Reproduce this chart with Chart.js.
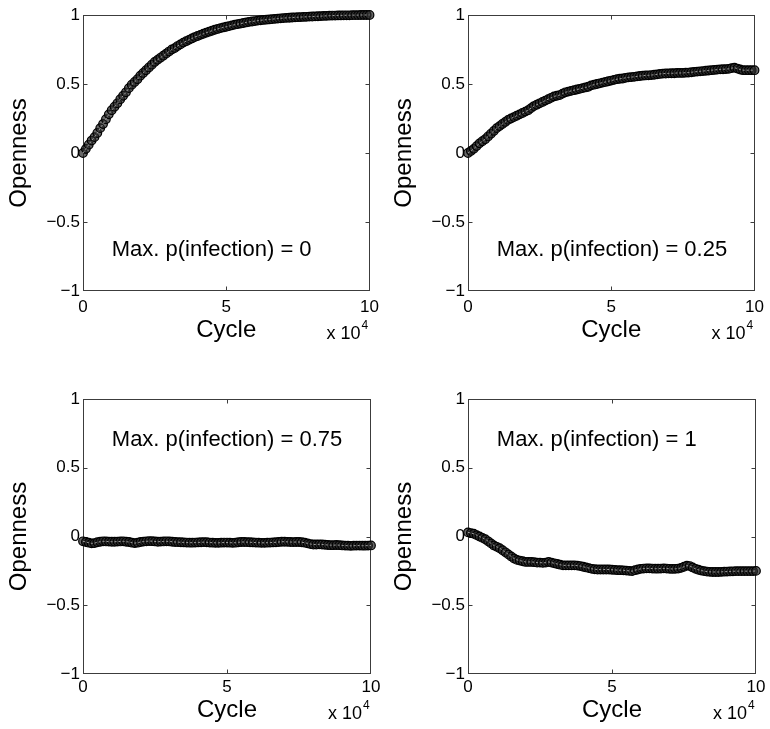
<!DOCTYPE html>
<html><head><meta charset="utf-8">
<script src="https://cdn.jsdelivr.net/npm/chart.js@4.4.1/dist/chart.umd.min.js"></script>
<style>
html,body{margin:0;padding:0;background:#fff;}
#wrap{position:relative;width:770px;height:729px;overflow:hidden;background:#fff;}
canvas{position:absolute;}
</style></head><body>
<div id="wrap">
<canvas id="c0" width="385" height="350" style="left:0;top:0"></canvas>
<canvas id="c1" width="385" height="350" style="left:385px;top:0"></canvas>
<canvas id="c2" width="385" height="359" style="left:0;top:370px"></canvas>
<canvas id="c3" width="385" height="359" style="left:385px;top:370px"></canvas>
</div>
<script>
// ---------------- DATA ----------------
const cycles = [0,1000,2000,3000,4000,5000,6000,7000,8000,9000,
10000,11000,12000,13000,14000,15000,16000,17000,18000,19000,
20000,21000,22000,23000,24000,25000,26000,27000,28000,29000,
30000,31000,32000,33000,34000,35000,36000,37000,38000,39000,
40000,41000,42000,43000,44000,45000,46000,47000,48000,49000,
50000,51000,52000,53000,54000,55000,56000,57000,58000,59000,
60000,61000,62000,63000,64000,65000,66000,67000,68000,69000,
70000,71000,72000,73000,74000,75000,76000,77000,78000,79000,
80000,81000,82000,83000,84000,85000,86000,87000,88000,89000,
90000,91000,92000,93000,94000,95000,96000,97000,98000,99000,100000];

const opennessP0 = [0.00,0.03,0.06,0.09,0.115,0.145,0.18,0.21,0.245,0.28,
0.31,0.335,0.36,0.39,0.415,0.44,0.47,0.495,0.515,0.535,
0.56,0.58,0.60,0.62,0.64,0.66,0.675,0.69,0.705,0.72,
0.735,0.75,0.76,0.775,0.787,0.80,0.81,0.82,0.83,0.84,
0.848,0.856,0.864,0.872,0.879,0.886,0.893,0.899,0.905,0.91,
0.915,0.92,0.925,0.93,0.934,0.938,0.942,0.946,0.95,0.953,
0.956,0.959,0.962,0.964,0.966,0.968,0.97,0.972,0.974,0.976,
0.978,0.979,0.98,0.982,0.983,0.984,0.985,0.986,0.987,0.988,
0.989,0.99,0.991,0.992,0.993,0.994,0.995,0.996,0.996,0.997,
0.997,0.998,0.998,0.998,0.999,0.999,0.999,1.0,1.0,1.0,1.0];

const opennessP025 = [0.00,0.015,0.03,0.05,0.07,0.085,0.10,0.12,0.14,0.16,
0.18,0.195,0.21,0.225,0.24,0.25,0.26,0.27,0.28,0.29,
0.30,0.31,0.325,0.34,0.35,0.36,0.37,0.38,0.39,0.40,
0.41,0.415,0.42,0.43,0.44,0.445,0.45,0.455,0.46,0.465,
0.47,0.475,0.48,0.49,0.495,0.50,0.505,0.51,0.515,0.52,
0.525,0.53,0.535,0.538,0.54,0.545,0.548,0.55,0.552,0.555,
0.558,0.56,0.562,0.563,0.565,0.567,0.57,0.573,0.575,0.576,
0.577,0.578,0.578,0.58,0.58,0.58,0.582,0.583,0.585,0.588,
0.59,0.592,0.594,0.596,0.598,0.60,0.602,0.604,0.606,0.607,
0.608,0.61,0.615,0.618,0.612,0.605,0.60,0.60,0.60,0.60,0.60];

const opennessP075 = [-0.035,-0.04,-0.045,-0.05,-0.048,-0.042,-0.038,-0.035,-0.036,-0.037,
-0.038,-0.038,-0.037,-0.036,-0.035,-0.038,-0.04,-0.045,-0.048,-0.045,
-0.04,-0.037,-0.035,-0.033,-0.034,-0.036,-0.038,-0.037,-0.036,-0.035,
-0.036,-0.038,-0.04,-0.041,-0.042,-0.043,-0.044,-0.045,-0.045,-0.044,
-0.043,-0.042,-0.041,-0.042,-0.044,-0.045,-0.046,-0.046,-0.045,-0.044,
-0.044,-0.045,-0.046,-0.045,-0.042,-0.04,-0.04,-0.041,-0.042,-0.043,
-0.044,-0.045,-0.046,-0.046,-0.045,-0.044,-0.043,-0.042,-0.04,-0.038,
-0.038,-0.039,-0.04,-0.041,-0.04,-0.04,-0.042,-0.045,-0.05,-0.055,
-0.058,-0.058,-0.057,-0.058,-0.06,-0.062,-0.063,-0.063,-0.062,-0.063,
-0.065,-0.066,-0.067,-0.068,-0.067,-0.066,-0.066,-0.067,-0.067,-0.066,-0.065];

const opennessP1 = [0.03,0.025,0.02,0.01,0.0,-0.01,-0.02,-0.035,-0.05,-0.065,
-0.075,-0.085,-0.10,-0.115,-0.13,-0.145,-0.16,-0.17,-0.175,-0.18,
-0.185,-0.185,-0.185,-0.187,-0.19,-0.19,-0.192,-0.19,-0.185,-0.19,
-0.195,-0.20,-0.205,-0.21,-0.21,-0.21,-0.21,-0.21,-0.212,-0.215,
-0.22,-0.225,-0.23,-0.235,-0.238,-0.24,-0.24,-0.24,-0.24,-0.24,
-0.242,-0.243,-0.245,-0.245,-0.246,-0.248,-0.25,-0.252,-0.245,-0.24,
-0.235,-0.233,-0.232,-0.232,-0.233,-0.234,-0.234,-0.233,-0.232,-0.233,
-0.235,-0.236,-0.235,-0.233,-0.228,-0.22,-0.212,-0.215,-0.225,-0.235,
-0.242,-0.248,-0.252,-0.255,-0.257,-0.258,-0.258,-0.258,-0.257,-0.256,
-0.255,-0.254,-0.253,-0.252,-0.252,-0.252,-0.252,-0.252,-0.252,-0.252,-0.25];

const panelTitles = ['Max. p(infection) = 0','Max. p(infection) = 0.25','Max. p(infection) = 0.75','Max. p(infection) = 1'];
const xTickValues = [0, 50000, 100000];
const xTickLabels = ['0', '5', '10'];
const yTickValues = [-1, -0.5, 0, 0.5, 1];
const yTickLabels = ['\u22121', '\u22120.5', '0', '0.5', '1'];
const xAxisTitle = 'Cycle';
const yAxisTitle = 'Openness';
const xExponent = '4';

// ---------------- DRAWING ----------------
const FONT = '"Liberation Sans", Arial, Helvetica, sans-serif';

const matlabAxes = {
  id: 'matlabAxes',
  beforeDatasetsDraw(chart) {
    const {ctx, chartArea: a, scales: {x, y}} = chart;
    ctx.save();
    ctx.strokeStyle = '#3c3c3c';
    ctx.lineWidth = 1;
    const L = Math.round(a.left) + 0.5, R = Math.round(a.right) - 0.5;
    const T = Math.round(a.top) + 0.5, B = Math.round(a.bottom) - 0.5;
    ctx.strokeRect(L, T, R - L, B - T);
    const tl = 4;
    ctx.beginPath();
    x.ticks.forEach(t => {
      const px = Math.round(x.getPixelForValue(t.value)) + 0.5;
      if (px <= L + 1 || px >= R - 1) return;
      ctx.moveTo(px, B); ctx.lineTo(px, B - tl);
      ctx.moveTo(px, T); ctx.lineTo(px, T + tl);
    });
    y.ticks.forEach(t => {
      const py = Math.round(y.getPixelForValue(t.value)) + 0.5;
      if (py <= T + 1 || py >= B - 1) return;
      ctx.moveTo(L, py); ctx.lineTo(L + tl, py);
      ctx.moveTo(R, py); ctx.lineTo(R - tl, py);
    });
    ctx.stroke();
    ctx.restore();
  },
  afterDraw(chart, args, opts) {
    const {ctx, chartArea: a, scales: {x, y}} = chart;
    ctx.save();
    ctx.fillStyle = '#000';
    ctx.font = `22px ${FONT}`;
    ctx.textAlign = 'left';
    ctx.textBaseline = 'middle';
    ctx.fillText(opts.label, x.getPixelForValue(opts.labelAt[0]), y.getPixelForValue(opts.labelAt[1]));
    ctx.textBaseline = 'alphabetic';
    ctx.font = `18px ${FONT}`;
    const x0 = a.right - 43;
    ctx.fillText('x 10', x0, opts.expBaseline);
    const w = ctx.measureText('x 10').width;
    ctx.font = `12px ${FONT}`;
    ctx.fillText(xExponent, x0 + w + 1, opts.expBaseline - 10);
    ctx.restore();
  }
};

function makePanel(id, values, title, labelY, row) {
  const top = row === 0 ? 15 : 29;
  const xAxisH = row === 0 ? 59 : 55;
  const tickPad = row === 0 ? 6 : 3;
  const titlePad = row === 0 ? 5 : 4;
  const expBaseline = row === 0 ? 339 : 349;
  const pts = cycles.map((c, i) => ({x: c, y: values[i]}));
  return new Chart(document.getElementById(id), {
    type: 'line',
    data: {
      datasets: [
        {
          data: pts,
          order: 0,
          showLine: true,
          borderColor: '#a0a0a0',
          borderWidth: 1,
          borderDash: [2, 2],
          pointRadius: 0,
          tension: 0,
          clip: false
        },
        {
          data: pts,
          order: 1,
          showLine: false,
          pointRadius: 4.3,
          pointStyle: 'circle',
          pointBorderColor: '#000',
          pointBackgroundColor: 'rgba(40,40,40,0.7)',
          pointBorderWidth: 1.2,
          clip: false
        }
      ]
    },
    options: {
      responsive: false,
      animation: false,
      events: [],
      layout: {padding: {left: 0, right: 14, top: top, bottom: 0}},
      plugins: {
        legend: {display: false},
        tooltip: {enabled: false},
        matlabAxes: {label: title, labelAt: [10000, labelY], expBaseline: expBaseline}
      },
      scales: {
        x: {
          type: 'linear', min: 0, max: 100000,
          grid: {display: false, drawTicks: false},
          border: {display: false},
          afterBuildTicks: s => { s.ticks = xTickValues.map(v => ({value: v})); },
          afterFit: s => { s.height = xAxisH; },
          ticks: {
            color: '#000', padding: tickPad, maxRotation: 0, autoSkip: false,
            font: {family: FONT, size: 17},
            callback: (v) => xTickLabels[xTickValues.indexOf(v)]
          },
          title: {display: true, text: xAxisTitle, color: '#000', font: {family: FONT, size: 24}, padding: {top: 0, bottom: titlePad}}
        },
        y: {
          type: 'linear', min: -1, max: 1,
          grid: {display: false, drawTicks: false},
          border: {display: false},
          afterBuildTicks: s => { s.ticks = yTickValues.map(v => ({value: v})); },
          afterFit: s => { s.width = 83; },
          ticks: {
            color: '#000', padding: 3, autoSkip: false,
            font: {family: FONT, size: 17},
            callback: (v) => yTickLabels[yTickValues.indexOf(v)]
          },
          title: {display: true, text: yAxisTitle, color: '#000', font: {family: FONT, size: 24}, padding: {top: 5, bottom: 0}}
        }
      }
    },
    plugins: [matlabAxes]
  });
}

makePanel('c0', opennessP0, panelTitles[0], -0.7, 0);
makePanel('c1', opennessP025, panelTitles[1], -0.7, 0);
makePanel('c2', opennessP075, panelTitles[2], 0.7, 1);
makePanel('c3', opennessP1, panelTitles[3], 0.7, 1);
</script>
</body></html>
